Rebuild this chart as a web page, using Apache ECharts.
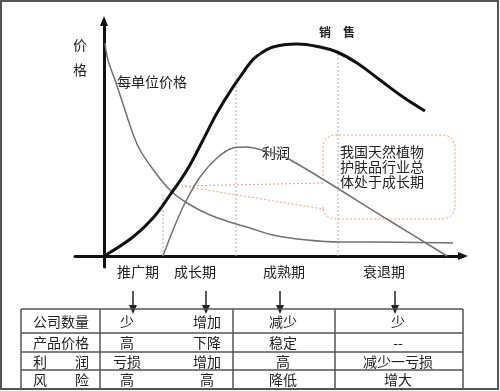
<!DOCTYPE html>
<html><head><meta charset="utf-8">
<script src="https://cdn.jsdelivr.net/npm/echarts@6/dist/echarts.min.js"></script>
<style>html,body{margin:0;padding:0;background:#fff}#c{width:500px;height:391px}</style>
</head><body><div id="c"></div>
<script>
// x = time since launch, y = level (arbitrary chart units)
const salesCurve = [[0,0],[29,19],[49,38],[66,61],[83,86],[98,114],[113,143],[129,169],[136,179],[146,193],[153,200],[169,209],[193,212],[216,209],[233,204],[253,193],[276,176],[299,159],[321,145]];
const unitPriceCurve = [[1,213],[4,196],[11,176],[19,152],[29,122],[36,106],[48,88],[66,66],[83,53],[106,41],[129,33],[146,28],[169,21],[203,16],[236,14],[269,14],[349,13]];
const profitCurve = [[59,0],[69,26],[81,53],[96,79],[113,98],[129,108],[143,109],[158,106],[183,98],[286,35],[343,0]];
const stageBoundaries = [59,132,234];
const boundaryTops = [63,183,203];
const stageNames = ['推广期','成长期','成熟期','衰退期'];
const rowLabels = ['公司数量','产品价格','利　　润','风　　险'];
const stageValues = [
  ['少','高','亏损','高'],
  ['增加','下降','增加','高'],
  ['减少','稳定','高','降低'],
  ['少','--','减少一亏损','增大']
];
const salesLabel = '销　售';
const priceLabel = '每单位价格';
const profitLabel = '利润';
const yAxisTitle = '价\n格';
const calloutText = ['我国天然植物','护肤品行业总','体处于成长期'];

// ---------- layout (pixels) ----------
const FONT = '"Noto Sans CJK SC","Noto Sans",sans-serif';
const TXT = '#222';
const stageLabelX = [138,195,284,384];
const arrowX = [133,206,280,395];
const cellTextX = [127,207,283,398];
const colX = [21,100,233,335,463];
const rowY = [309,333,352,370,389];

function txt(text, x, y, size, opts) {
  return {
    type:'text', silent:true,
    style:Object.assign({text:text, x:x, y:y, fill:TXT, font:size+'px '+FONT,
      textAlign:'center', textVerticalAlign:'middle'}, (opts||{}))
  };
}

const graphics = [];
// outer frame
graphics.push({type:'rect', shape:{x:1,y:1,width:497,height:388}, style:{fill:'none',stroke:'#555',lineWidth:2}, silent:true});

// axis title and curve labels
graphics.push(txt(yAxisTitle, 80, 57, 14, {lineHeight:25}));
graphics.push(txt(priceLabel, 152, 82, 14));
graphics.push(txt(salesLabel, 337, 32, 12, {font:'bold 12px '+FONT}));
graphics.push(txt(profitLabel, 276, 153, 14));

// callout
(function(){
  const L=323,R=455,T=135,B=219,r=12;
  const pts=[[L,183],[182,186],[323,209],[L,B-r]];
  function arc(cx,cy,a0,a1){for(let k=1;k<=6;k++){const a=a0+(a1-a0)*k/6;pts.push([cx+r*Math.cos(a),cy+r*Math.sin(a)]);}}
  arc(L+r,B-r,Math.PI,Math.PI/2);
  pts.push([R-r,B]);
  arc(R-r,B-r,Math.PI/2,0);
  pts.push([R,T+r]);
  arc(R-r,T+r,0,-Math.PI/2);
  pts.push([L+r,T]);
  arc(L+r,T+r,-Math.PI/2,-Math.PI);
  pts.push([L,183]);
  graphics.push({type:'polyline', shape:{points:pts}, style:{fill:'none',stroke:'#d9a48c',lineWidth:1,lineDash:[2,2]}, silent:true});
  calloutText.forEach((t,i)=>graphics.push(txt(t, 340, 152+i*15, 14, {textAlign:'left'})));
})();

// stage labels and arrows
stageNames.forEach((s,i)=>{
  graphics.push(txt(s, stageLabelX[i], 272, 14));
  const x=arrowX[i];
  graphics.push({type:'line', shape:{x1:x,y1:291,x2:x,y2:307}, style:{stroke:'#222',lineWidth:1.5}, silent:true});
  graphics.push({type:'polygon', shape:{points:[[x-4,305],[x+4,305],[x,314]]}, style:{fill:'#222'}, silent:true});
});

// table
rowY.forEach(y=>graphics.push({type:'line', shape:{x1:colX[0],y1:y,x2:colX[colX.length-1],y2:y}, style:{stroke:'#555',lineWidth:1.5}, silent:true}));
colX.forEach(x=>graphics.push({type:'line', shape:{x1:x,y1:rowY[0],x2:x,y2:rowY[rowY.length-1]}, style:{stroke:'#555',lineWidth:1.5}, silent:true}));
rowLabels.forEach((lab,r)=>{
  const cy=(rowY[r]+rowY[r+1])/2+0.5;
  graphics.push(txt(lab, 61, cy, 14));
  stageValues.forEach((vals,s)=>graphics.push(txt(vals[r], cellTextX[s], cy, 14)));
});

const boundarySeries = stageBoundaries.map((x,i)=>({
  type:'line', data:[[x,0],[x,boundaryTops[i]]], symbol:'none', silent:true, z:1,
  lineStyle:{color:'#b0b0b0', width:1, type:[2,2]}
}));

const chart = echarts.init(document.getElementById('c'), null, {renderer:'canvas'});
chart.setOption({
  animation:false,
  backgroundColor:'#fff',
  grid:{left:75, right:37, top:21, bottom:124},
  xAxis:{type:'value', min:-29, max:359,
    axisLine:{onZero:true, symbol:['none','triangle'], symbolSize:[8,10], lineStyle:{color:'#111', width:3}},
    axisTick:{show:false}, axisLabel:{show:false}, splitLine:{show:false}},
  yAxis:{type:'value', min:-11, max:235,
    axisLine:{show:true, onZero:true, symbol:['none','triangle'], symbolSize:[8,10], lineStyle:{color:'#111', width:3}},
    axisTick:{show:false}, axisLabel:{show:false}, splitLine:{show:false}},
  series:[
    {name:'每单位价格', type:'line', data:unitPriceCurve, smooth:0.4, symbol:'none', z:2,
     lineStyle:{color:'#707070', width:1.5}},
    {name:'利润', type:'line', data:profitCurve, smooth:0.3, symbol:'none', z:2,
     lineStyle:{color:'#707070', width:1.5}},
    {name:'销售', type:'line', data:salesCurve, smooth:0.4, symbol:'none', z:3,
     lineStyle:{color:'#111', width:3}}
  ].concat(boundarySeries),
  graphic:graphics
});
</script>
</body></html>
